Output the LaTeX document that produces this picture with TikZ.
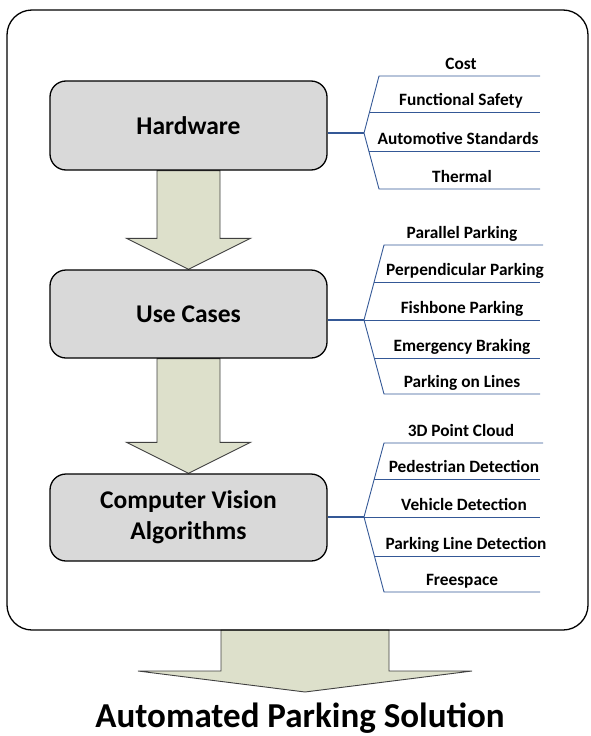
\documentclass[tikz,border=0pt]{standalone}
\usepackage{fontspec}
\setmainfont{Carlito}
\usetikzlibrary{calc,backgrounds}
\definecolor{boxgray}{RGB}{217,217,217}
\definecolor{arrowfill}{RGB}{221,224,203}
\definecolor{arrowline}{RGB}{64,64,64}
\definecolor{branch}{RGB}{52,88,150}
\newcommand\blockarrow[5]{%
  \path[blk] let \p1=(#1), \p2=(#2) in
    (\x1-#3,\y1) -- (\x1+#3,\y1) -- (\x1+#3,\y2+#5) -- (\x1+#4,\y2+#5) --
    (\x1,\y2) -- (\x1-#4,\y2+#5) -- (\x1-#3,\y2+#5) -- cycle;}
\begin{document}
\begin{tikzpicture}[x=1pt,y=-1pt,
  box/.style={draw=black, line width=1.3pt, fill=boxgray, rounded corners=16pt,
    minimum width=277pt, inner sep=0pt, align=center,
    font=\fontsize{25.5}{31}\selectfont\bfseries},
  blk/.style={draw=arrowline, line width=0.9pt, fill=arrowfill, line join=miter},
  br/.style={draw=branch, line width=0.9pt},
  stem/.style={draw=branch, line width=1.3pt},
  lab/.style={anchor=base, inner sep=0pt, font=\fontsize{17.3}{20}\selectfont\bfseries},
]
\useasboundingbox (0,0) rectangle (590,736);

% outer frame
\node[draw=black, line width=1.3pt, rounded corners=25pt, minimum width=581pt,
      minimum height=620pt, inner sep=0pt] (outer) at (297.5,320) {};

% main boxes
\node[box, minimum height=89pt] (hw) at (188.5,125.5) {Hardware};
\node[box, minimum height=88pt] (uc) at (188.5,314) {Use Cases};
\node[box, minimum height=87pt] (cv) at (188.5,517.5) {Computer Vision\\Algorithms};

% block arrows
\coordinate (a3s) at (305,630);
\coordinate (a3t) at (305,692);
\begin{scope}[on background layer]
  \blockarrow{hw.south}{uc.north}{31.5pt}{62pt}{31pt}
  \blockarrow{uc.south}{cv.north}{31.5pt}{62pt}{31pt}
  \blockarrow{a3s}{a3t}{84pt}{167pt}{21pt}
\end{scope}

\node[anchor=base, inner sep=0pt, font=\fontsize{35}{40}\selectfont\bfseries] (title)
  at (300,727.5) {Automated Parking Solution};

% ---- Hardware branches
\coordinate (f1) at (364,133);
\draw[stem] (hw.east |- f1) -- (f1);
\draw[br] (f1) -- (379,76) -- (540,76);
\draw[br] (f1) -- (379,189) -- (540,189);
\draw[br] (369.5,112) -- (540,112);
\draw[br] (368.8,151) -- (540,151);
\node[lab] (h1) at (461,69) {Cost};
\node[lab] (h2) at (461,105) {Functional Safety};
\node[lab] (h3) at (458,144) {Automotive Standards};
\node[lab] (h4) at (462,182) {Thermal};

% ---- Use case branches
\coordinate (f2) at (364,320);
\draw[stem] (uc.east |- f2) -- (f2);
\draw[br] (f2) -- (540,320);
\draw[br] (f2) -- (384,245) -- (543,245);
\draw[br] (f2) -- (384,394) -- (540,394);
\draw[br] (374.1,282) -- (540,282);
\draw[br] (374.3,358) -- (540,358);
\node[lab] (u1) at (462,238) {Parallel Parking};
\node[lab] (u2) at (465,275) {Perpendicular Parking};
\node[lab] (u3) at (462,313) {Fishbone Parking};
\node[lab] (u4) at (462,351) {Emergency Braking};
\node[lab] (u5) at (462,387) {Parking on Lines};

% ---- CV branches
\coordinate (f3) at (364,517);
\draw[stem] (cv.east |- f3) -- (f3);
\draw[br] (f3) -- (540,517);
\draw[br] (f3) -- (384,443) -- (543,443);
\draw[br] (f3) -- (384,592) -- (540,592);
\draw[br] (374.3,479) -- (540,479);
\draw[br] (374.4,556) -- (540,556);
\node[lab] (c1) at (461,436) {3D Point Cloud};
\node[lab] (c2) at (464,472) {Pedestrian Detection};
\node[lab] (c3) at (464,510) {Vehicle Detection};
\node[lab] (c4) at (466,549) {Parking Line Detection};
\node[lab] (c5) at (462,585) {Freespace};
\end{tikzpicture}
\end{document}
